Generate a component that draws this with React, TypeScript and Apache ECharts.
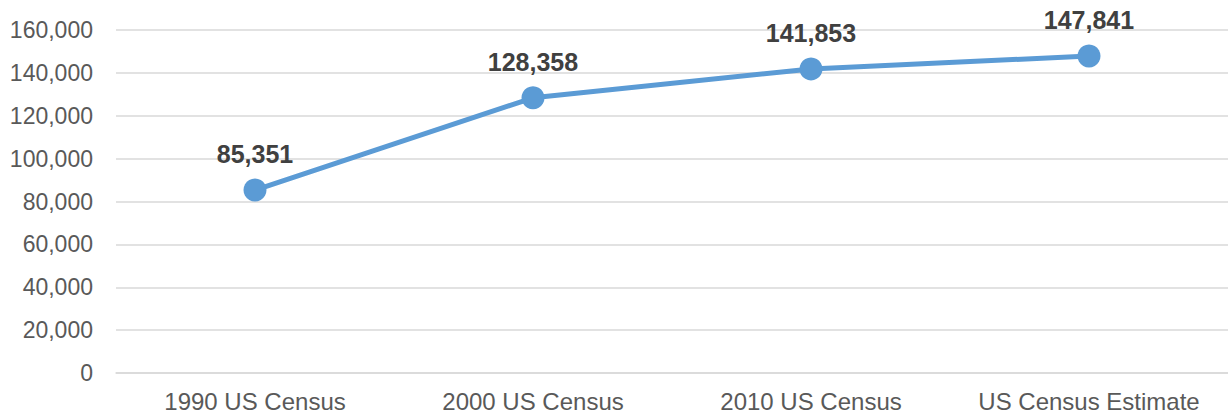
import React, { useEffect, useRef } from "react";
import * as echarts from "echarts";

const categories = ["1990 US Census", "2000 US Census", "2010 US Census", "US Census Estimate"];
const population = [85351, 128358, 141853, 147841];
const yMax = 160000;
const yInterval = 20000;

const FONT = "Liberation Sans, Arial, sans-serif";

export default function App() {
  const ref = useRef<HTMLDivElement>(null);
  useEffect(() => {
    document.body.style.margin = "0";
    const chart = echarts.init(ref.current!, null, { renderer: "svg" });
    chart.setOption({
      animation: false,
      grid: { left: 116, right: 0, top: 30, bottom: 42, containLabel: false },
      xAxis: {
        type: "category",
        data: categories,
        boundaryGap: true,
        axisLine: { show: true, lineStyle: { color: "#d9d9d9", width: 1.5 } },
        axisTick: { show: false },
        axisLabel: { color: "#595959", fontSize: 24, fontFamily: FONT, margin: 16, interval: 0 },
      },
      yAxis: {
        type: "value",
        min: 0,
        max: yMax,
        interval: yInterval,
        axisLine: { show: false },
        axisTick: { show: false },
        splitLine: { lineStyle: { color: "#d9d9d9", width: 1.5 } },
        axisLabel: {
          color: "#595959",
          fontSize: 23,
          fontFamily: FONT,
          margin: 23,
          formatter: (v: number) => v.toLocaleString("en-US"),
        },
      },
      series: [
        {
          type: "line",
          data: population,
          symbol: "circle",
          symbolSize: 23,
          lineStyle: { color: "#5B9BD5", width: 5 },
          itemStyle: { color: "#5B9BD5" },
          label: {
            show: true,
            position: "top",
            distance: 12,
            color: "#404040",
            fontSize: 25,
            fontWeight: "bold",
            fontFamily: FONT,
            formatter: (p: any) => Number(p.value).toLocaleString("en-US"),
          },
        },
      ],
    });
    return () => chart.dispose();
  }, []);
  return <div ref={ref} style={{ width: 1228, height: 415, position: "absolute", left: 0, top: 0 }} />;
}
